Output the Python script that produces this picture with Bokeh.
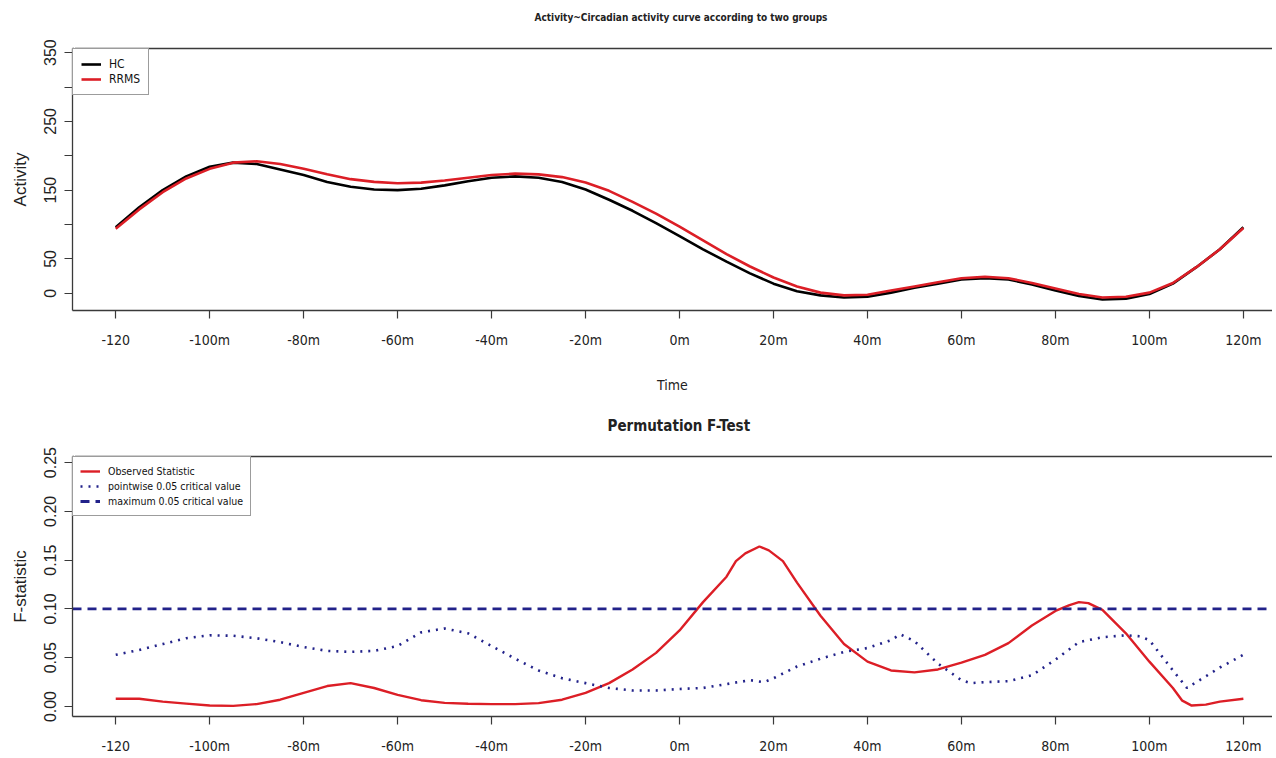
from bokeh.plotting import figure
from bokeh.layouts import column
from bokeh.models import Range1d, FixedTicker, LinearAxis, Legend, LegendItem
from bokeh.embed import file_html
from bokeh.resources import INLINE

# ---------------- data ----------------
time_min = [-120, -115, -110, -105, -100, -95, -90, -85, -80, -75, -70, -65, -60, -55, -50,
            -45, -40, -35, -30, -25, -20, -15, -10, -5, 0, 5, 10, 15, 20, 25, 30, 35, 40,
            45, 50, 55, 60, 65, 70, 75, 80, 85, 90, 95, 100, 105, 110, 115, 120]
hc = [96, 125, 150, 170, 184, 190, 188, 180, 172, 162, 155, 151, 150, 152, 157,
      163, 168, 170, 168, 162, 151, 136, 120, 102, 83, 64, 46, 29, 14, 3, -3, -6, -5,
      1, 8, 14, 20, 22, 20, 13, 4, -4, -9, -8, -1, 14, 38, 64, 96]
rrms = [94, 122, 147, 167, 181, 190, 192, 188, 181, 173, 166, 162, 160, 161, 164,
        168, 172, 174, 173, 169, 161, 149, 133, 116, 97, 77, 57, 39, 23, 10, 1, -3, -2,
        4, 10, 16, 22, 24, 22, 15, 7, -1, -6, -5, 1, 15, 38, 64, 95]

obs_time = [-120, -115, -110, -105, -100, -95, -90, -85, -80, -75, -70, -65, -60, -55, -50,
            -45, -40, -35, -30, -25, -20, -15, -10, -5, 0, 5, 10, 12, 14, 17, 19, 22, 25,
            30, 35, 40, 45, 50, 55, 60, 65, 70, 75, 80, 83, 85, 87, 90, 95, 100, 105, 107,
            109, 112, 115, 120]
observed = [0.008, 0.008, 0.005, 0.003, 0.001, 0.0007, 0.0025, 0.007, 0.014, 0.021, 0.024,
            0.019, 0.012, 0.0065, 0.0038, 0.0028, 0.0025, 0.0025, 0.0035, 0.007, 0.014,
            0.024, 0.038, 0.055, 0.078, 0.107, 0.133, 0.149, 0.157, 0.164, 0.160, 0.149,
            0.127, 0.093, 0.064, 0.046, 0.037, 0.035, 0.038, 0.045, 0.053, 0.065, 0.083,
            0.098, 0.104, 0.107, 0.106, 0.099, 0.075, 0.046, 0.019, 0.006, 0.001, 0.002,
            0.005, 0.008]

pw_time = [-120, -115, -110, -105, -100, -95, -90, -85, -80, -75, -70, -65, -60, -55, -50,
           -45, -40, -35, -30, -25, -20, -15, -10, -5, 0, 5, 10, 15, 18, 20, 25, 30, 35,
           40, 45, 47, 50, 55, 60, 62, 65, 70, 75, 80, 85, 90, 95, 98, 100, 105, 108,
           110, 115, 120]
pointwise = [0.053, 0.058, 0.064, 0.070, 0.073, 0.0725, 0.070, 0.066, 0.061, 0.057, 0.056,
             0.057, 0.062, 0.076, 0.080, 0.075, 0.062, 0.049, 0.037, 0.029, 0.024, 0.019,
             0.0165, 0.0165, 0.018, 0.019, 0.023, 0.027, 0.025, 0.029, 0.041, 0.049, 0.056,
             0.060, 0.068, 0.074, 0.067, 0.044, 0.027, 0.024, 0.025, 0.026, 0.032, 0.048,
             0.066, 0.071, 0.073, 0.072, 0.068, 0.037, 0.019, 0.025, 0.040, 0.053]
max_crit = 0.10

x_ticks = [-120, -100, -80, -60, -40, -20, 0, 20, 40, 60, 80, 100, 120]
x_tick_labels = ["-120", "-100m", "-80m", "-60m", "-40m", "-20m", "0m", "20m", "40m",
                 "60m", "80m", "100m", "120m"]
act_ticks = [0, 50, 100, 150, 200, 250, 300, 350]
act_tick_labels = ["0", "50", "", "150", "", "250", "", "350"]
f_ticks = [0.0, 0.05, 0.10, 0.15, 0.20, 0.25]
f_tick_labels = ["0.00", "0.05", "0.10", "0.15", "0.20", "0.25"]

title_top = "Activity~Circadian activity curve according to two groups"
title_bottom = "Permutation F-Test"

# ---------------- style ----------------
NARROW = "DejaVu Sans Condensed"
REG = "Liberation Sans"
RED = "#dc1e26"
NAVY = "#22228a"
AX = "#3a3a3a"
W = 1272
X0, X1 = -129.2, 126.2


def style_axes(p, yticks, ylabels, ylabel, top_gap):
    p.xaxis.ticker = FixedTicker(ticks=x_ticks)
    p.xaxis.major_label_overrides = dict(zip(x_ticks, x_tick_labels))
    p.yaxis.ticker = FixedTicker(ticks=yticks)
    p.yaxis.major_label_overrides = dict(zip(yticks, ylabels))
    for ax in (p.xaxis[0], p.yaxis[0]):
        ax.axis_line_color = AX
        ax.axis_line_width = 1.3
        ax.major_tick_line_color = AX
        ax.major_tick_line_width = 1.2
        ax.major_tick_in = 0
        ax.major_tick_out = 8
        ax.minor_tick_line_color = None
        ax.major_label_text_color = "#222222"
        ax.axis_label_text_color = "#222222"
        ax.axis_label_text_font_style = "normal"
    p.xaxis.major_label_text_font = NARROW
    p.xaxis.major_label_text_font_size = "14px"
    p.xaxis.major_label_standoff = 13
    p.yaxis.major_label_text_font = REG
    p.yaxis.major_label_text_font_size = "16px"
    p.yaxis.major_label_orientation = "vertical"
    p.yaxis.major_label_standoff = 8
    p.yaxis.axis_label = ylabel
    p.yaxis.axis_label_text_font = REG
    p.yaxis.axis_label_text_font_size = "17px"
    p.yaxis.axis_label_standoff = 12
    # top border of the box; one white (invisible) tick at the box corner reserves
    # the gap between the box and the title
    spacer_tick = X0 + 0.5
    top = LinearAxis(ticker=FixedTicker(ticks=[spacer_tick]), axis_line_color=AX,
                     axis_line_width=1.3, major_tick_line_color="white",
                     minor_tick_line_color=None, major_tick_in=0, major_tick_out=top_gap,
                     major_label_overrides={spacer_tick: ""},
                     major_label_text_font_size="1px", major_label_standoff=0)
    p.add_layout(top, "above")
    p.grid.visible = False
    p.outline_line_color = None


def style_legend(lg, size, pad):
    lg.location = "top_left"
    lg.margin = 0
    lg.padding = pad
    lg.spacing = 1
    lg.glyph_width = 20
    lg.glyph_height = 14
    lg.label_height = 14
    lg.label_standoff = 8
    lg.label_text_font = NARROW
    lg.label_text_font_size = size
    lg.label_text_color = "#111111"
    lg.border_line_color = AX
    lg.border_line_width = 1.3
    lg.background_fill_alpha = 1


def style_title(p, size, offset):
    p.title.align = "left"
    p.title.offset = offset
    p.title.standoff = 4
    p.title.text_font = NARROW
    p.title.text_font_style = "bold"
    p.title.text_font_size = size
    p.title.text_color = "#222222"


# ---------------- top figure ----------------
p1 = figure(width=W, height=400, output_backend="svg", toolbar_location=None,
            x_range=Range1d(X0, X1), y_range=Range1d(-25, 356),
            min_border_left=72, min_border_right=0, min_border_top=48, min_border_bottom=90,
            title=title_top)
style_title(p1, "10px", 462)
style_axes(p1, act_ticks, act_tick_labels, "Activity", 24)
bx = p1.below[0]
bx.axis_label = "Time"
bx.axis_label_text_font = NARROW
bx.axis_label_text_font_size = "14px"
bx.axis_label_standoff = 26

r_hc = p1.line(time_min, hc, line_color="black", line_width=2.6)
r_rr = p1.line(time_min, rrms, line_color=RED, line_width=2.6)
lg1 = Legend(items=[LegendItem(label="HC", renderers=[r_hc]),
                    LegendItem(label="RRMS", renderers=[r_rr])])
style_legend(lg1, "12px", 8)
p1.add_layout(lg1, "center")

# ---------------- bottom figure ----------------
p2 = figure(width=W, height=356, output_backend="svg", toolbar_location=None,
            x_range=Range1d(X0, X1), y_range=Range1d(-0.0102, 0.2562),
            min_border_left=72, min_border_right=0, min_border_top=56, min_border_bottom=39,
            title=title_bottom)
style_title(p2, "15px", 535)
style_axes(p2, f_ticks, f_tick_labels, "F-statistic", 20)

r_obs = p2.line(obs_time, observed, line_color=RED, line_width=2.4)
r_pw = p2.line(pw_time, pointwise, line_color=NAVY, line_width=2.6, line_dash="2 6")
r_max = p2.line([X0, X1], [max_crit, max_crit], line_color=NAVY, line_width=2.8,
                line_dash="9 6")
lg2 = Legend(items=[LegendItem(label="Observed Statistic", renderers=[r_obs]),
                    LegendItem(label="pointwise 0.05 critical value", renderers=[r_pw]),
                    LegendItem(label="maximum 0.05 critical value", renderers=[r_max])])
style_legend(lg2, "10.5px", 7)
p2.add_layout(lg2, "center")

layout = column(p1, p2, spacing=0)
open("out.html", "w").write(file_html(layout, INLINE))
